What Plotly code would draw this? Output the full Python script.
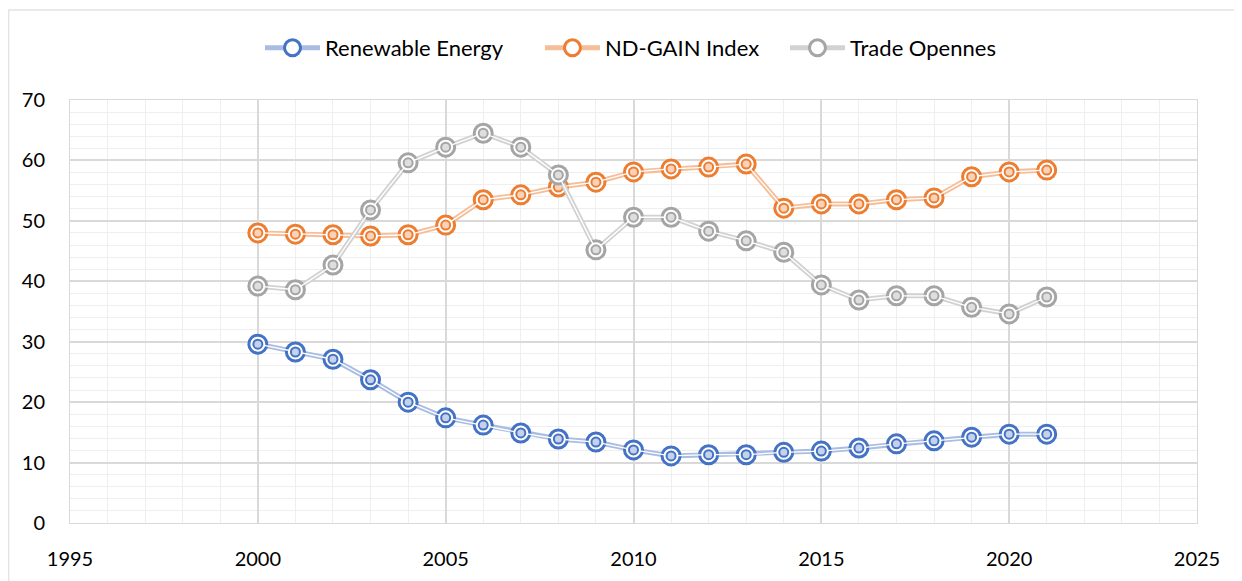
"""Renewable energy, ND-GAIN index and trade openness, 2000-2021"""

import plotly.graph_objects as go

years = list(range(2000, 2022))

renewable_energy = [29.6, 28.3, 27.1, 23.7, 20.0, 17.4, 16.2, 14.9, 13.9, 13.4,
                    12.1, 11.1, 11.3, 11.3, 11.7, 11.9, 12.4, 13.1, 13.6, 14.2,
                    14.7, 14.7]
nd_gain_index = [48.0, 47.8, 47.7, 47.5, 47.7, 49.3, 53.5, 54.3, 55.6, 56.4,
                 58.1, 58.6, 58.9, 59.4, 52.1, 52.8, 52.8, 53.5, 53.8, 57.3,
                 58.1, 58.4]
trade_openness = [39.2, 38.6, 42.7, 51.8, 59.6, 62.2, 64.5, 62.2, 57.6, 45.2,
                  50.6, 50.6, 48.3, 46.7, 44.8, 39.4, 36.9, 37.6, 37.6, 35.7,
                  34.6, 37.4]

series = [
    ("Renewable Energy", renewable_energy, "#4472C4", "#A9BDE3", "#C5D2EC", "legend"),
    ("ND-GAIN Index", nd_gain_index, "#ED7D31", "#F6BE98", "#F8D3B9", "legend2"),
    ("Trade Opennes", trade_openness, "#A5A5A5", "#D2D2D2", "#DEDEDE", "legend3"),
]

fig = go.Figure()

for name, vals, color, light, tint, leg in series:
    # double "compound" line: thick light line with a thin white core,
    # markers drawn as two concentric rings
    fig.add_trace(go.Scatter(
        x=years, y=vals, mode="lines+markers", name=name, legendgroup=name,
        legend=leg,
        line=dict(color=light, width=5),
        marker=dict(symbol="circle", size=18, color="white",
                    line=dict(color=color, width=3))))
    fig.add_trace(go.Scatter(
        x=years, y=vals, mode="lines+markers", legendgroup=name, legend=leg,
        showlegend=False, hoverinfo="skip",
        line=dict(color="white", width=1.3),
        marker=dict(symbol="circle", size=9, color=tint,
                    line=dict(color=color, width=2))))

# one legend box per series so each entry sits where the reference has it
legend_style = dict(orientation="h", xanchor="left", y=1.123, yanchor="middle",
                    font=dict(size=22), itemwidth=55, bgcolor="rgba(0,0,0,0)")

# the page body has an 8px margin, so the figure is offset by 8px
fig.update_layout(
    width=1242, height=581,
    margin=dict(l=62, r=53, t=92, b=66, autoexpand=False),
    paper_bgcolor="white", plot_bgcolor="white",
    font=dict(family="Lato, Open Sans, sans-serif", size=20, color="black"),
    legend=dict(x=0.1686, **legend_style),
    legend2=dict(x=0.4170, **legend_style),
    legend3=dict(x=0.6344, **legend_style),
    showlegend=True,
)

fig.update_xaxes(
    range=[1995, 2025], dtick=5, tick0=1995,
    showgrid=True, gridcolor="#D9D9D9", gridwidth=1.5,
    minor=dict(dtick=1, showgrid=True, gridcolor="#EFEFEF", gridwidth=1),
    showline=True, linecolor="#D9D9D9", mirror=True, zeroline=False,
    ticks="", ticklabelstandoff=18)
fig.update_yaxes(
    range=[0, 70], dtick=10,
    showgrid=True, gridcolor="#D9D9D9", gridwidth=1.5,
    minor=dict(dtick=2, showgrid=True, gridcolor="#EFEFEF", gridwidth=1),
    showline=True, linecolor="#D9D9D9", mirror=True, zeroline=False,
    ticks="", ticklabelstandoff=20)

# faint outer chart border (only its left and top edges are in view)
fig.add_shape(type="rect", xref="paper", yref="paper",
              x0=-0.0545, x1=1.06, y0=-0.2, y1=1.213,
              line=dict(color="#E3E3E3", width=1.5))

fig.write_html("out.html")
